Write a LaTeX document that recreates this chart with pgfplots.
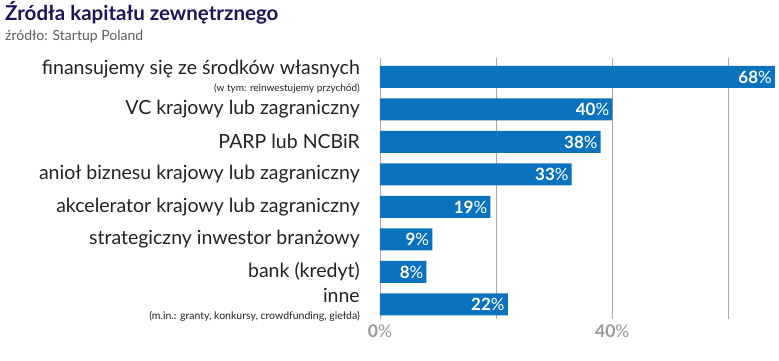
\documentclass[border=0pt]{standalone}
\usepackage{pgfplots}
\pgfplotsset{compat=1.18}
\usepackage{fontspec}
\setmainfont{Lato}
\definecolor{barblue}{HTML}{0B72BD}
\definecolor{titlecol}{HTML}{1C1458}
\definecolor{subcol}{HTML}{5A5A5A}
\definecolor{labcol}{HTML}{222222}
\definecolor{gridcol}{HTML}{A8A8A8}
\definecolor{tickcol}{HTML}{9A9A9A}
\begin{document}
\begin{tikzpicture}
\begin{axis}[
  scale only axis,
  width=395pt, height=261pt,
  xbar, bar width=22pt,
  xmin=0, xmax=68,
  ymin=-0.58, ymax=7.45,
  y dir=reverse,
  axis line style={draw=none},
  /pgf/number format/assume math mode=true,
  xtick={0,40}, minor xtick={20,60},
  xticklabels={{\bfseries 0}\%,{\bfseries 40}\%},
  xmajorgrids, xminorgrids,
  grid style={gridcol, line width=0.8pt},
  minor grid style={gridcol, line width=0.8pt},
  major tick length=0pt, minor tick length=0pt,
  tick style={draw=none},
  xticklabel style={font=\fontsize{17.5}{19}\selectfont, text=tickcol, yshift=-2pt},
  ytick={0,...,7},
  yticklabels={
    {{\fontsize{19.5}{19}\selectfont finansujemy się ze środków własnych}\\[-4pt]{\fontsize{10}{10}\selectfont (w tym: reinwestujemy przychód)}},
    {VC krajowy lub zagraniczny},
    {PARP lub NCBiR},
    {anioł biznesu krajowy lub zagraniczny},
    {akcelerator krajowy lub zagraniczny},
    {strategiczny inwestor branżowy},
    {bank (kredyt)},
    {{\fontsize{19.5}{19}\selectfont inne}\\[-4pt]{\fontsize{10.5}{11}\selectfont (m.in.: granty, konkursy, crowdfunding, giełda)}}
  },
  yticklabel style={font=\fontsize{19.5}{21}\selectfont, text=labcol, align=right, inner sep=0pt, xshift=-20pt},
  clip=false,
  nodes near coords={{\bfseries\pgfmathprintnumber{\pgfplotspointmeta}}\%},
  every node near coord/.append style={anchor=east, text=white, font=\fontsize{17}{18}\selectfont, inner sep=3pt},
]
\addplot[fill=barblue, draw=none] coordinates {
(68,0) (40,1) (38,2) (33,3) (19,4) (9,5) (8,6) (22,7)
};
\end{axis}
\node[anchor=base west, font=\bfseries\fontsize{20.5}{22}\selectfont, text=titlecol, inner sep=0pt] at (-375pt,299pt) {Źródła kapitału zewnętrznego};
\node[anchor=base west, font=\fontsize{14}{15}\selectfont, text=subcol, inner sep=0pt] at (-375pt,279pt) {źródło: Startup Poland};
\pgfresetboundingbox
\useasboundingbox (-380pt,-41pt) rectangle (399pt,319pt);
\end{tikzpicture}
\end{document}
